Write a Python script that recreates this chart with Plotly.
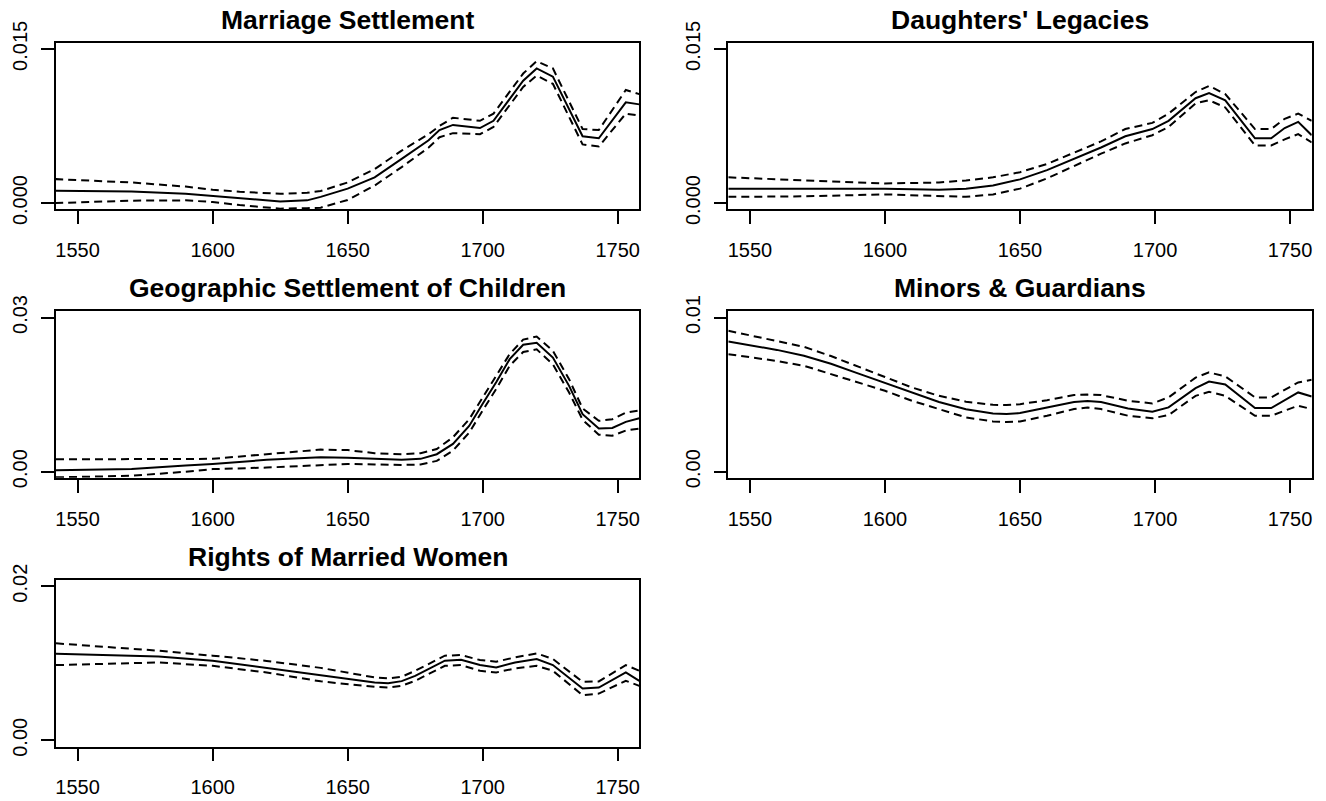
import plotly.graph_objects as go

# ---- data (fitted line + upper/lower bands) ----
marriage_years = [1541.7, 1570, 1590, 1600, 1610, 1625, 1635, 1640, 1650, 1660, 1670, 1680,
                  1684, 1689, 1699, 1704, 1715, 1720, 1726, 1737, 1743, 1753, 1758]
marriage_fit = [0.0012, 0.00113, 0.0009, 0.0007, 0.0005, 0.00016, 0.00026, 0.0006, 0.0014, 0.0025,
                0.0043, 0.0061, 0.0071, 0.0076, 0.0073, 0.0080, 0.0119, 0.0131, 0.0123, 0.0065,
                0.0063, 0.0098, 0.0096]
marriage_hi = [0.00233, 0.0020, 0.0016, 0.0013, 0.0011, 0.0009, 0.0010, 0.00117, 0.0020, 0.0033,
               0.0051, 0.0067, 0.0075, 0.0083, 0.0080, 0.0087, 0.0126, 0.0138, 0.0131, 0.0072,
               0.0071, 0.0110, 0.0106]
marriage_lo = [0.0, 0.00023, 0.00026, 0.0001, -0.0002, -0.00055, -0.0005, -0.00045, 0.0003, 0.0017,
               0.0035, 0.0054, 0.0064, 0.0068, 0.0067, 0.0074, 0.0113, 0.0124, 0.0116, 0.0057,
               0.0055, 0.0087, 0.0085]

daughters_years = [1542, 1570, 1600, 1620, 1630, 1640, 1650, 1660, 1670, 1680, 1689, 1699, 1705,
                   1715, 1720, 1726, 1737, 1743, 1748, 1753, 1758]
daughters_fit = [0.0014, 0.0014, 0.0014, 0.0013, 0.0014, 0.0017, 0.0023, 0.0032, 0.0043, 0.0054,
                 0.0065, 0.0072, 0.0080, 0.0102, 0.0107, 0.0100, 0.0063, 0.0063, 0.0073, 0.0079, 0.0066]
daughters_hi = [0.0025, 0.0022, 0.0019, 0.0020, 0.0022, 0.0025, 0.0030, 0.0038, 0.0049, 0.0060,
                0.0072, 0.0078, 0.0087, 0.0108, 0.0114, 0.0106, 0.0072, 0.0072, 0.0082, 0.0087, 0.0080]
daughters_lo = [0.0006, 0.00065, 0.00084, 0.00065, 0.0006, 0.00084, 0.0014, 0.0024, 0.0036, 0.0048,
                0.0058, 0.0066, 0.0074, 0.0097, 0.0100, 0.0093, 0.0056, 0.0056, 0.0062, 0.0067, 0.0059]

geo_years = [1542, 1570, 1590, 1600, 1620, 1640, 1650, 1660, 1670, 1677, 1683, 1689, 1695, 1700,
             1705, 1710, 1715, 1720, 1726, 1732, 1737, 1743, 1748, 1753, 1758]
geo_fit = [0.00026, 0.0005, 0.0012, 0.0015, 0.0023, 0.0028, 0.0027, 0.0025, 0.0023, 0.0025, 0.0034,
           0.0054, 0.0089, 0.0132, 0.0174, 0.0219, 0.0247, 0.0251, 0.0222, 0.0167, 0.0112, 0.0084,
           0.0085, 0.0097, 0.0104]
geo_hi = [0.0024, 0.0024, 0.0024, 0.0025, 0.0034, 0.0043, 0.0042, 0.0036, 0.0034, 0.0036, 0.0044,
          0.0067, 0.0102, 0.0145, 0.0187, 0.0229, 0.0257, 0.0263, 0.0235, 0.0180, 0.0123, 0.0099,
          0.0102, 0.0115, 0.0119]
geo_lo = [-0.0011, -0.0008, 0.0, 0.0005, 0.0008, 0.0013, 0.0015, 0.0014, 0.0013, 0.0014, 0.0021,
          0.0041, 0.0076, 0.0119, 0.0161, 0.0206, 0.0233, 0.0238, 0.0209, 0.0154, 0.0101, 0.0072,
          0.0070, 0.0080, 0.0084]

minors_years = [1542, 1560, 1570, 1580, 1590, 1600, 1610, 1620, 1630, 1640, 1645, 1650, 1660, 1670,
                1675, 1680, 1690, 1699, 1705, 1715, 1720, 1726, 1737, 1743, 1753, 1758]
minors_fit = [0.00844, 0.00790, 0.00752, 0.00700, 0.00638, 0.00575, 0.00510, 0.00452, 0.00405,
              0.00378, 0.00374, 0.00380, 0.00417, 0.00452, 0.00458, 0.00452, 0.00410, 0.00389,
              0.00417, 0.00542, 0.00585, 0.00566, 0.00413, 0.00413, 0.00514, 0.00488]
minors_hi = [0.00914, 0.0085, 0.0081, 0.00750, 0.00684, 0.00614, 0.00546, 0.00492, 0.00454, 0.00434,
             0.00432, 0.00438, 0.00464, 0.00497, 0.0050, 0.00497, 0.0046, 0.00443, 0.00482, 0.0061,
             0.00644, 0.00618, 0.00482, 0.00482, 0.00579, 0.00596]
minors_lo = [0.00762, 0.00718, 0.00687, 0.00633, 0.00579, 0.00525, 0.0046, 0.00406, 0.00352, 0.00326,
             0.00322, 0.00326, 0.00363, 0.00406, 0.00417, 0.00406, 0.00363, 0.00346, 0.00367,
             0.00492, 0.00518, 0.00492, 0.00363, 0.00363, 0.00428, 0.00406]

rights_years = [1542, 1580, 1600, 1620, 1640, 1650, 1660, 1665, 1670, 1675, 1680, 1686, 1692, 1699,
                1705, 1712, 1720, 1726, 1737, 1743, 1753, 1758]
rights_fit = [0.01124, 0.01089, 0.01033, 0.0094, 0.0085, 0.00794, 0.0075, 0.00742, 0.00768, 0.00837,
              0.00924, 0.01033, 0.01046, 0.00977, 0.00946, 0.0101, 0.01055, 0.00977, 0.00672,
              0.00685, 0.00881, 0.00772]
rights_hi = [0.01258, 0.01163, 0.01098, 0.01030, 0.00940, 0.00881, 0.00816, 0.00803, 0.00824,
             0.00902, 0.00989, 0.01098, 0.01106, 0.01041, 0.0102, 0.01076, 0.01128, 0.01055,
             0.00759, 0.00764, 0.00976, 0.00902]
rights_lo = [0.00976, 0.0101, 0.00967, 0.00880, 0.00765, 0.00725, 0.00694, 0.00685, 0.00707,
             0.00772, 0.00859, 0.00967, 0.00976, 0.00902, 0.00881, 0.00933, 0.00967, 0.00902,
             0.00586, 0.00607, 0.00772, 0.00707]

x_ticks = [1550, 1600, 1650, 1700, 1750]

# title, years, fit, hi, lo, y max, y tick labels
panels = [
    ("Marriage Settlement", marriage_years, marriage_fit, marriage_hi, marriage_lo, 0.015, ["0.000", "0.015"]),
    ("Daughters' Legacies", daughters_years, daughters_fit, daughters_hi, daughters_lo, 0.015, ["0.000", "0.015"]),
    ("Geographic Settlement of Children", geo_years, geo_fit, geo_hi, geo_lo, 0.03, ["0.00", "0.03"]),
    ("Minors & Guardians", minors_years, minors_fit, minors_hi, minors_lo, 0.01, ["0.00", "0.01"]),
    ("Rights of Married Women", rights_years, rights_fit, rights_hi, rights_lo, 0.02, ["0.00", "0.02"]),
]

# full window; body margin is removed by the post script below
W, H = 1326, 801
col_px = [(56, 639.3), (728.3, 1311.7)]
row_top = [42.7, 311.35, 580.0]
box_h = 166.5
FONT = "Liberation Sans, Arial, Helvetica, sans-serif"

fig = go.Figure()
layout = dict(width=W, height=H, autosize=False,
              margin=dict(l=0, r=0, t=0, b=0, pad=0, autoexpand=False),
              paper_bgcolor="white", plot_bgcolor="white", showlegend=False,
              font=dict(family=FONT, color="black", size=20))
annotations = []

for i, (title, yrs, fit, hi, lo, ymax, ylabs) in enumerate(panels):
    r, c = divmod(i, 2)
    n = "" if i == 0 else str(i + 1)
    x0, x1 = col_px[c]
    top = row_top[r]
    bot = top + box_h
    ext = 0.04 * ymax
    axis_common = dict(showline=True, mirror=True, linecolor="black", linewidth=1.5,
                       ticks="outside", ticklen=13, tickwidth=1.5, tickcolor="black",
                       showgrid=False, zeroline=False, automargin=False,
                       tickfont=dict(size=20, family=FONT))
    layout["xaxis" + n] = dict(domain=[x0 / W, x1 / W], anchor="y" + n, range=[1542, 1758],
                               tickvals=x_ticks, ticktext=[str(v) for v in x_ticks],
                               ticklabelstandoff=9, **axis_common)
    layout["yaxis" + n] = dict(domain=[1 - bot / H, 1 - top / H], anchor="x" + n,
                               range=[-ext, ymax + ext], tickvals=[0, ymax], ticktext=ylabs,
                               tickangle=-90, ticklabelstandoff=6, **axis_common)
    for vals, dash in ((lo, "8px,5px"), (hi, "8px,5px"), (fit, "solid")):
        fig.add_trace(go.Scatter(x=yrs, y=vals, mode="lines", xaxis="x" + n, yaxis="y" + n,
                                 line=dict(color="black", width=2, dash=dash),
                                 hoverinfo="skip"))
    annotations.append(dict(text="<b>%s</b>" % title, xref="paper", yref="paper",
                            x=(x0 + x1) / 2 / W, y=1 - (top - 23) / H, xanchor="center",
                            yanchor="middle", showarrow=False,
                            font=dict(size=26.5, family=FONT, color="black")))

layout["annotations"] = annotations
fig.update_layout(**layout)
fig.write_html("out.html", config={"displayModeBar": False},
               post_script="document.body.style.margin = '0px';")
